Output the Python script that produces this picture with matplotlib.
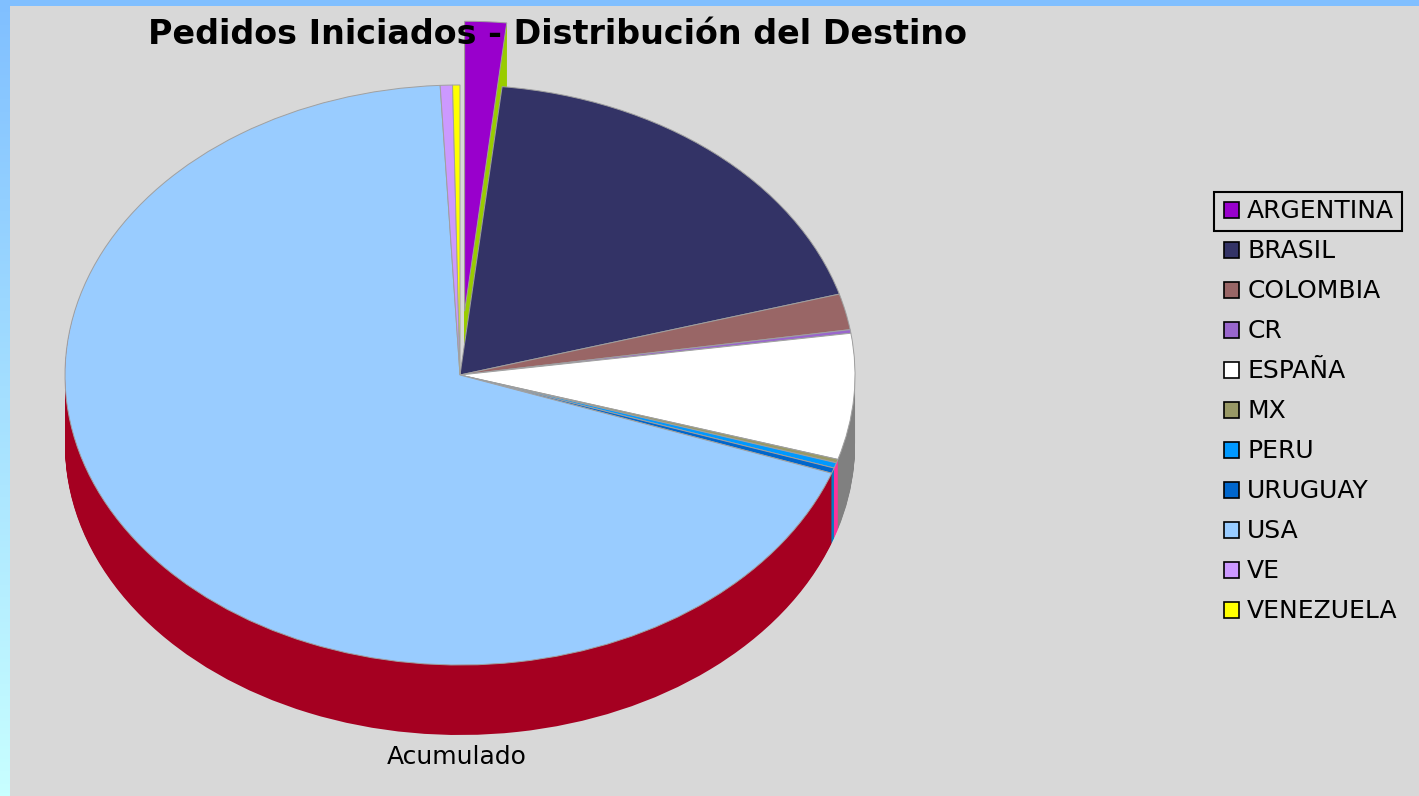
import numpy as np
import matplotlib
matplotlib.use('Agg')
import matplotlib.pyplot as plt
from matplotlib.patches import Patch, Rectangle

paises = ['ARGENTINA', 'BRASIL', 'COLOMBIA', 'CR', 'ESPAÑA', 'MX', 'PERU',
          'URUGUAY', 'USA', 'VE', 'VENEZUELA']
pedidos = [17, 188, 20, 2, 70, 2, 3, 3, 687, 5, 3]
colores = ['#9900cc', '#333366', '#996666', '#9966cc', '#ffffff', '#999966',
           '#0099ff', '#0066cc', '#99ccff', '#cc99ff', '#ffff00']
lados = ['#99cc00', '#1f1f4d', '#804040', '#663399', '#808080', '#ff3399',
         '#ff3399', '#0080c0', '#a50021', '#cc66cc', '#cccc00']
separar = [0.22, 0, 0, 0, 0, 0, 0, 0, 0, 0, 0]
titulo = 'Pedidos Iniciados - Distribución del Destino'
serie = 'Acumulado'

W, H = 1419, 796
fig = plt.figure(figsize=(W / 100, H / 100), dpi=100)

# fondo: borde azul con degradado y area gris
bg = fig.add_axes([0, 0, 1, 1])
grad = np.linspace(0, 1, 256)[:, None]
c1 = np.array([0x80, 0xbf, 0xff]) / 255
c2 = np.array([0xc8, 0xff, 0xff]) / 255
img = (c1[None, None, :] * (1 - grad[..., None]) + c2[None, None, :] * grad[..., None])
bg.imshow(img, aspect='auto', extent=(0, 1, 0, 1))
bg.add_patch(Rectangle((10 / W, 0), 1, 1 - 6 / H, facecolor='#d8d8d8', edgecolor='none'))
bg.set_xlim(0, 1)
bg.set_ylim(0, 1)
bg.axis('off')

ax = fig.add_axes([0, 0, 1, 1])
ax.patch.set_alpha(0)

cx, cy, rx, ry = 460, 375, 395, 290
depth = 70 / ry
nl = 70
for k in range(nl, 0, -1):
    ax.pie(pedidos, colors=lados, explode=separar, startangle=90,
           counterclock=False, center=(0, -depth * k / nl),
           wedgeprops=dict(linewidth=0))
wedges, _ = ax.pie(pedidos, colors=colores, explode=separar, startangle=90,
                   counterclock=False, center=(0, 0),
                   wedgeprops=dict(linewidth=0.7, edgecolor='#a0a0a0'))
ax.set_aspect('auto')
ax.set_xlim(-cx / rx, (W - cx) / rx)
ax.set_ylim(-(H - cy) / ry, cy / ry)
ax.axis('off')

fig.text(558 / W, 1 - 34 / H, titulo, ha='center', va='center',
         fontsize=24, fontweight='bold', family='DejaVu Sans')
fig.text(457 / W, 1 - 757 / H, serie, ha='center', va='center',
         fontsize=18, family='DejaVu Sans')

handles = [Patch(facecolor=c, edgecolor='black', linewidth=1.2) for c in colores]
leg = fig.legend(handles, paises, loc='upper left',
                 bbox_to_anchor=(1206 / W, 1 - 182 / H), frameon=False,
                 prop={'family': 'DejaVu Sans', 'size': 18},
                 handlelength=0.6, handleheight=0.6, handletextpad=0.35,
                 labelspacing=0.64, borderpad=0.2)

fig.canvas.draw()
r = fig.canvas.get_renderer()
tb = leg.get_texts()[0].get_window_extent(r)
x0 = 1214 / W
y0 = (tb.y0 - 7) / H
fig.add_artist(Rectangle((x0, y0), (tb.x1 + 8) / W - x0, (tb.height + 14) / H,
                         transform=fig.transFigure, fill=False,
                         edgecolor='black', linewidth=1.5))

fig.savefig('out.png', dpi=100)
